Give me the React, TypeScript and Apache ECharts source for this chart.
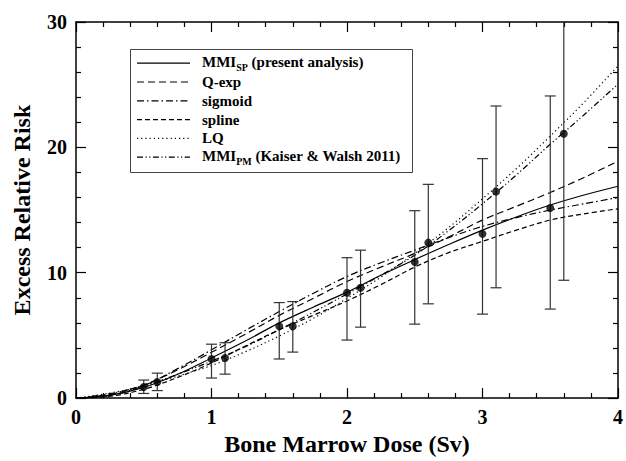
import React, { useEffect, useRef } from 'react';
import * as echarts from 'echarts';

const doses = [0, 0.25, 0.5, 0.75, 1, 1.25, 1.5, 1.75, 2, 2.25, 2.5, 2.75, 3, 3.25, 3.5, 3.75, 4];

// Model curves (Excess Relative Risk)
const mmiSP = [0, 0.22, 0.85, 1.9, 3.2, 4.55, 6.0, 7.25, 8.45, 9.8, 11.05, 12.25, 13.4, 14.45, 15.4, 16.2, 16.9];
const qExp = [0, 0.3, 1.05, 2.25, 3.65, 5.1, 6.6, 7.95, 9.3, 10.45, 11.55, 12.85, 14.2, 15.3, 16.4, 17.6, 18.9];
const sigmoid = [0, 0.2, 1.0, 2.35, 3.85, 5.4, 6.9, 8.35, 9.7, 10.8, 11.8, 12.8, 13.7, 14.4, 15.0, 15.5, 16.0];
const spline = [0, 0.15, 0.7, 1.65, 2.8, 4.15, 5.45, 6.6, 7.75, 9.05, 10.45, 11.6, 12.5, 13.4, 14.2, 14.7, 15.1];
const lq = [0, 0.4, 0.97, 1.75, 2.6, 3.7, 4.95, 6.35, 7.95, 9.65, 11.55, 13.6, 15.9, 18.3, 20.9, 23.6, 26.5];
const mmiPM = [0, 0.35, 1.0, 1.9, 2.95, 4.1, 5.45, 6.85, 8.3, 9.8, 11.4, 13.35, 15.5, 17.8, 20.25, 22.6, 25.05];

// Observed data points with error bars
const pointDose = [0.5, 0.6, 1.0, 1.1, 1.5, 1.6, 2.0, 2.1, 2.5, 2.6, 3.0, 3.1, 3.5, 3.6];
const pointErr = [0.89, 1.28, 3.12, 3.2, 5.73, 5.73, 8.4, 8.8, 10.85, 12.4, 13.1, 16.47, 15.16, 21.08];
const errLow = [0.37, 0.6, 1.6, 1.91, 3.12, 3.67, 4.63, 5.66, 5.9, 7.52, 6.7, 8.8, 7.1, 9.4];
const errHigh = [1.44, 1.99, 4.3, 4.42, 7.62, 7.7, 11.2, 11.8, 14.95, 17.05, 19.1, 23.3, 24.1, 31];

// Axis ticks
const xTicks = [0, 1, 2, 3, 4];
const yTicks = [0, 10, 20, 30];

const FONT = '"Liberation Serif", "Times New Roman", serif';

export default function App() {
  const ref = useRef<HTMLDivElement>(null);

  useEffect(() => {
    document.body.style.margin = '0';
    if (!ref.current) return;
    const chart = echarts.init(ref.current, undefined, { renderer: 'svg' });

    const axisCommon = (isX: boolean, showLabel: boolean, pos: string) => ({
      type: 'value',
      position: pos,
      min: isX ? xTicks[0] : yTicks[0],
      max: isX ? xTicks[xTicks.length - 1] : yTicks[yTicks.length - 1],
      interval: isX ? 1 : 10,
      axisLine: { show: true, onZero: false, lineStyle: { color: '#000', width: 1.5 } },
      axisTick: { show: true, inside: true, length: 10, lineStyle: { color: '#000', width: 1.2 } },
      minorTick: { show: true, splitNumber: 5, length: 5, lineStyle: { color: '#000', width: 1.2 } },
      splitLine: { show: false },
      minorSplitLine: { show: false },
      axisLabel: {
        show: showLabel,
        color: '#000',
        fontSize: 20,
        fontWeight: 'bold',
        fontFamily: FONT,
        margin: isX ? 9 : 9,
      },
    });

    const lineSeries = (name: string, data: number[], type: any) => ({
      name,
      type: 'line',
      data: doses.map((d, i) => [d, data[i]]),
      showSymbol: false,
      smooth: 0.35,
      lineStyle: { color: '#000', width: 1.2, type },
      z: 3,
    });

    const rowY = [63.2, 82, 100.8, 119.6, 138.4, 157.2];
    const legendLines: any[] = [
      [],
      [7, 4],
      [7, 3, 1.5, 3],
      [5, 3],
      [1.2, 3],
      [6, 2.5, 1.2, 2.5, 1.2, 2.5],
    ];
    const txt = (text: string, x: number, y: number, size = 15) => ({
      type: 'text',
      x,
      y,
      z: 101,
      style: {
        text,
        fill: '#000',
        fontSize: size,
        fontWeight: 'bold',
        fontFamily: FONT,
        align: 'left',
        verticalAlign: 'middle',
      },
    });
    const tx = 202;
    const mmiW = 2.277 * 15;
    const graphics: any[] = [
      {
        type: 'rect',
        shape: { x: 130.5, y: 49.5, width: 282, height: 123 },
        style: { fill: '#fff', stroke: '#444', lineWidth: 1 },
        z: 100,
      },
      ...rowY.map((y, i) => ({
        type: 'line',
        z: 101,
        shape: { x1: 137, y1: y, x2: 190, y2: y },
        style: { stroke: '#000', lineWidth: 1.2, lineDash: legendLines[i].length ? legendLines[i] : null },
      })),
      txt('MMI', tx, rowY[0] - 1),
      txt('SP', tx + mmiW, rowY[0] + 4, 10),
      txt('(present analysis)', tx + mmiW + 11.7 + 3.75, rowY[0] - 1),
      txt('Q-exp', tx, rowY[1]),
      txt('sigmoid', tx, rowY[2]),
      txt('spline', tx, rowY[3]),
      txt('LQ', tx, rowY[4]),
      txt('MMI', tx, rowY[5] - 1),
      txt('PM', tx + mmiW, rowY[5] + 4, 10),
      txt('(Kaiser & Walsh 2011)', tx + mmiW + 15.55 + 3.75, rowY[5] - 1),
    ];

    chart.setOption({
      animation: false,
      grid: { left: 76, top: 22, right: 3, bottom: 57, containLabel: false },
      xAxis: [
        {
          ...axisCommon(true, true, 'bottom'),
          name: 'Bone Marrow Dose (Sv)',
          nameLocation: 'middle',
          nameGap: 27,
          nameTextStyle: { color: '#000', fontSize: 24, fontWeight: 'bold', fontFamily: FONT },
        },
        { ...axisCommon(true, false, 'top') },
      ],
      yAxis: [
        {
          ...axisCommon(false, true, 'left'),
          name: 'Excess Relative Risk',
          nameLocation: 'middle',
          nameRotate: 90,
          nameGap: 42,
          nameTextStyle: { color: '#000', fontSize: 24, fontWeight: 'bold', fontFamily: FONT },
        },
        { ...axisCommon(false, false, 'right') },
      ],
      series: [
        lineSeries('MMI_SP', mmiSP, 'solid'),
        lineSeries('Q-exp', qExp, [7, 4]),
        lineSeries('sigmoid', sigmoid, [7, 3, 1.5, 3]),
        lineSeries('spline', spline, [5, 3]),
        lineSeries('LQ', lq, [1.2, 3]),
        lineSeries('MMI_PM', mmiPM, [6, 2.5, 1.2, 2.5, 1.2, 2.5]),
        {
          type: 'custom',
          clip: true,
          z: 4,
          data: pointDose.map((d, i) => [d, errLow[i], errHigh[i]]),
          encode: { x: 0, y: [1, 2] },
          renderItem: (params: any, api: any) => {
            const x = api.value(0);
            const top = api.coord([x, api.value(2)]);
            const bot = api.coord([x, api.value(1)]);
            const hw = 5.5;
            const style = { stroke: '#333', lineWidth: 1.2 };
            return {
              type: 'group',
              children: [
                { type: 'line', shape: { x1: top[0], y1: top[1], x2: bot[0], y2: bot[1] }, style },
                { type: 'line', shape: { x1: top[0] - hw, y1: top[1], x2: top[0] + hw, y2: top[1] }, style },
                { type: 'line', shape: { x1: bot[0] - hw, y1: bot[1], x2: bot[0] + hw, y2: bot[1] }, style },
              ],
            };
          },
        },
        {
          type: 'scatter',
          z: 5,
          symbol: 'circle',
          symbolSize: 8,
          itemStyle: { color: '#000' },
          data: pointDose.map((d, i) => [d, pointErr[i]]),
        },
      ],
      graphic: graphics,
    });

    return () => chart.dispose();
  }, []);

  return <div ref={ref} style={{ width: 626, height: 461 }} />;
}
